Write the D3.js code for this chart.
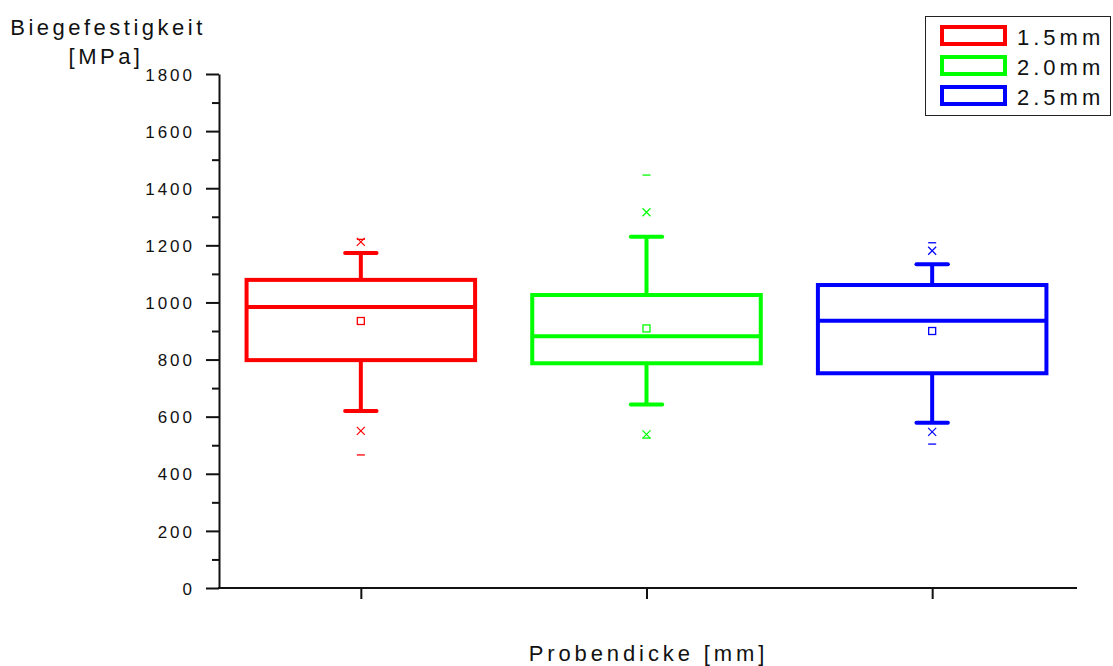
<!DOCTYPE html>
<html>
<head>
<meta charset="utf-8">
<script src="https://cdn.jsdelivr.net/npm/d3@7"></script>
<style>
  body { margin: 0; background: white; }
  svg { display: block; font-family: "Liberation Sans", Arial, sans-serif; }
</style>
</head>
<body>
<svg id="chart" width="1113" height="666"></svg>
<script>
// values
const categories = ['1.5mm', '2.0mm', '2.5mm'];
const colors = ['#ff0000', '#00ff00', '#0000ff'];
const q1 = [798, 787, 752];
const median = [984, 882, 936];
const q3 = [1079, 1026, 1061];
const whiskerLow = [620, 643, 579];
const whiskerHigh = [1173, 1230, 1134];
const mean = [935, 909, 900];
const pctLow = [550, 538, 547];
const pctHigh = [1212, 1316, 1181];
const minVal = [466, 525, 504];
const maxVal = [1221, 1446, 1209];
const yMajorTicks = [0, 200, 400, 600, 800, 1000, 1200, 1400, 1600, 1800];
const yMinorTicks = [100, 300, 500, 700, 900, 1100, 1300, 1500, 1700];

const svg = d3.select('#chart');

const x = d3.scaleLinear().domain([0.5, 3.5]).range([218, 1075]);
const y = d3.scaleLinear().domain([0, 1800]).range([588, 74]);

const boxHalf = 0.4;   // in category units
const capHalf = 0.055;

const data = categories.map((c, i) => ({
    pos: i + 1, color: colors[i],
    q1: q1[i], med: median[i], q3: q3[i],
    lo: whiskerLow[i], hi: whiskerHigh[i], mean: mean[i],
    pLo: pctLow[i], pHi: pctHigh[i], min: minVal[i], max: maxVal[i]
}));

// axes
const yAxisMinor = svg.append('g')
    .attr('transform', `translate(${x(0.5) + 1},0)`)
    .call(d3.axisLeft(y).tickValues(yMinorTicks).tickSize(7).tickFormat(''));
yAxisMinor.select('.domain').remove();

const yAxis = svg.append('g')
    .attr('transform', `translate(${x(0.5) + 1},0)`)
    .call(d3.axisLeft(y).tickValues(yMajorTicks).tickSize(13).tickPadding(11)
        .tickSizeOuter(0).tickFormat(d3.format('d')));
yAxis.selectAll('text')
    .style('font-size', '17px')
    .style('letter-spacing', '3px')
    .attr('dy', '0.36em')
    .attr('fill', '#111');

const xAxis = svg.append('g')
    .attr('transform', `translate(0,${y(0)})`)
    .call(d3.axisBottom(x).tickValues([1, 2, 3]).tickSize(11).tickSizeOuter(0).tickFormat(''));
xAxis.select('.domain').attr('d', `M${x(0.5)},0H${x(3.5) + 2}`);

svg.selectAll('.domain, .tick line')
    .attr('stroke', '#111')
    .attr('stroke-width', 2);

// boxes
const boxes = svg.append('g').selectAll('g')
    .data(data)
    .enter().append('g');

boxes.append('rect')
    .attr('x', d => x(d.pos - boxHalf))
    .attr('y', d => y(d.q3))
    .attr('width', d => x(d.pos + boxHalf) - x(d.pos - boxHalf))
    .attr('height', d => y(d.q1) - y(d.q3))
    .attr('fill', 'none')
    .attr('stroke', d => d.color)
    .attr('stroke-width', 4);

boxes.append('line')
    .attr('x1', d => x(d.pos - boxHalf))
    .attr('x2', d => x(d.pos + boxHalf))
    .attr('y1', d => y(d.med))
    .attr('y2', d => y(d.med))
    .attr('stroke', d => d.color)
    .attr('stroke-width', 4);

// whiskers + caps
boxes.each(function (d) {
    const g = d3.select(this);
    [[d.q3, d.hi], [d.q1, d.lo]].forEach(([a, b]) => {
        g.append('line')
            .attr('x1', x(d.pos)).attr('x2', x(d.pos))
            .attr('y1', y(a)).attr('y2', y(b))
            .attr('stroke', d.color).attr('stroke-width', 4);
        g.append('line')
            .attr('x1', x(d.pos - capHalf)).attr('x2', x(d.pos + capHalf))
            .attr('y1', y(b)).attr('y2', y(b))
            .attr('stroke', d.color).attr('stroke-width', 4)
            .attr('stroke-linecap', 'round');
    });

    // mean square
    g.append('rect')
        .attr('x', x(d.pos) - 3.5).attr('y', y(d.mean) - 3.5)
        .attr('width', 7).attr('height', 7)
        .attr('fill', 'white')
        .attr('stroke', d.color).attr('stroke-width', 1.3);

    // 1% / 99% crosses
    [d.pLo, d.pHi].forEach(v => {
        const cx = x(d.pos), cy = y(v), s = 4;
        g.append('path')
            .attr('d', `M${cx - s},${cy - s}L${cx + s},${cy + s}M${cx - s},${cy + s}L${cx + s},${cy - s}`)
            .attr('stroke', d.color).attr('stroke-width', 1.2)
            .attr('fill', 'none');
    });

    // min / max dashes
    [d.min, d.max].forEach(v => {
        g.append('line')
            .attr('x1', x(d.pos) - 4).attr('x2', x(d.pos) + 4)
            .attr('y1', y(v)).attr('y2', y(v))
            .attr('stroke', d.color).attr('stroke-width', 1.3);
    });
});

// axis titles
const yTitle = svg.append('text')
    .attr('text-anchor', 'middle')
    .style('font-size', '22px')
    .style('letter-spacing', '3.5px')
    .attr('fill', '#111');
yTitle.append('tspan').attr('x', 108).attr('y', 35).text('Biegefestigkeit');
yTitle.append('tspan').attr('x', 106).attr('y', 64).text('[MPa]');

svg.append('text')
    .attr('x', x(2) + 2)
    .attr('y', 661)
    .attr('text-anchor', 'middle')
    .style('font-size', '22px')
    .style('letter-spacing', '3.9px')
    .attr('fill', '#111')
    .text('Probendicke [mm]');

// legend
const legend = svg.append('g');
legend.append('rect')
    .attr('x', 925.5).attr('y', 16.5)
    .attr('width', 185).attr('height', 99)
    .attr('fill', 'white')
    .attr('stroke', '#222')
    .attr('stroke-width', 1);

const items = legend.selectAll('g.item')
    .data(data)
    .enter().append('g')
    .attr('class', 'item')
    .attr('transform', (d, i) => `translate(0,${35.5 + i * 30})`);

items.append('rect')
    .attr('x', 942).attr('y', -8.5)
    .attr('width', 63).attr('height', 17)
    .attr('fill', 'none')
    .attr('stroke', d => d.color)
    .attr('stroke-width', 4);

items.append('text')
    .attr('x', 1017).attr('y', 9)
    .style('font-size', '22px')
    .style('letter-spacing', '4px')
    .attr('fill', '#111')
    .text((d, i) => categories[i]);
</script>
</body>
</html>
